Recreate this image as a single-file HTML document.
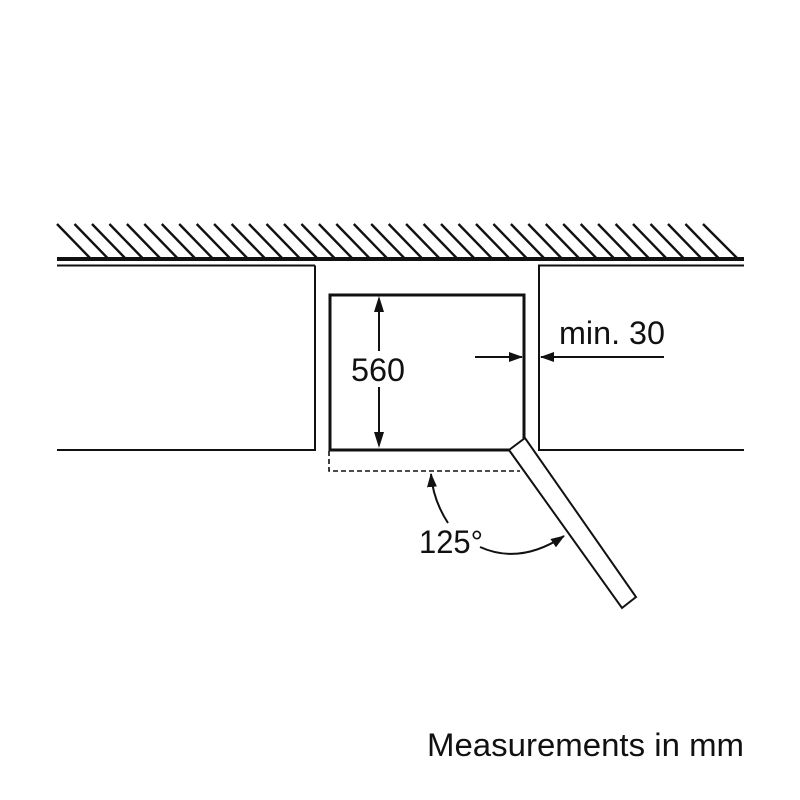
<!DOCTYPE html>
<html><head><meta charset="utf-8"><style>html,body{margin:0;padding:0;background:#fff}svg{display:block}</style></head>
<body>
<svg width="800" height="800" viewBox="0 0 800 800" xmlns="http://www.w3.org/2000/svg">
<defs>
<marker id="ah" markerWidth="14" markerHeight="10" refX="13" refY="5" orient="auto" markerUnits="userSpaceOnUse">
<path d="M0,0 L14,5 L0,10 Z" fill="#111"/>
</marker>
</defs>
<g stroke="#111" stroke-width="2" fill="none">
<line x1="57" y1="259" x2="744" y2="259" stroke-width="4"/>
<line x1="57" y1="265.5" x2="315" y2="265.5"/>
<polyline points="315,265.5 315,450 57,450"/>
<polyline points="744,265.5 539,265.5 539,450 744,450"/>
<rect x="330" y="295" width="194" height="155" stroke-width="3"/>
<polygon points="509,450 525,438 636,597 622,608" fill="#fff" stroke-width="2"/>
<polyline points="329,451 329,471 520,471" stroke-dasharray="5,3" stroke-width="1.6"/>
<line x1="379" y1="308" x2="379" y2="351"/>
<line x1="379" y1="387" x2="379" y2="437"/>
<line x1="475" y1="357" x2="522" y2="357" marker-end="url(#ah)"/>
<line x1="664" y1="357" x2="541" y2="357" marker-end="url(#ah)"/>
<path d="M448,523 Q433,500 431,474" marker-end="url(#ah)"/>
<path d="M480,547 Q520,565 564,536" marker-end="url(#ah)"/>
</g>
<path d="M379,296 L374,312 L384,312 Z M379,448 L374,432 L384,432 Z" fill="#111"/>
<g stroke="#111" stroke-width="2.4">
<line x1="57" y1="224" x2="90" y2="258"/><line x1="74.5" y1="224" x2="107.5" y2="258"/><line x1="92" y1="224" x2="125" y2="258"/><line x1="109.4" y1="224" x2="142.4" y2="258"/><line x1="126.9" y1="224" x2="159.9" y2="258"/><line x1="144.3" y1="224" x2="177.3" y2="258"/><line x1="161.8" y1="224" x2="194.8" y2="258"/><line x1="179.2" y1="224" x2="212.2" y2="258"/><line x1="196.7" y1="224" x2="229.7" y2="258"/><line x1="214.1" y1="224" x2="247.1" y2="258"/><line x1="231.6" y1="224" x2="264.6" y2="258"/><line x1="249" y1="224" x2="282" y2="258"/><line x1="266.5" y1="224" x2="299.5" y2="258"/><line x1="284" y1="224" x2="317" y2="258"/><line x1="301.4" y1="224" x2="334.4" y2="258"/><line x1="318.9" y1="224" x2="351.9" y2="258"/><line x1="336.3" y1="224" x2="369.3" y2="258"/><line x1="353.8" y1="224" x2="386.8" y2="258"/><line x1="371.2" y1="224" x2="404.2" y2="258"/><line x1="388.7" y1="224" x2="421.7" y2="258"/><line x1="406.1" y1="224" x2="439.1" y2="258"/><line x1="423.6" y1="224" x2="456.6" y2="258"/><line x1="441" y1="224" x2="474" y2="258"/><line x1="458.5" y1="224" x2="491.5" y2="258"/><line x1="476" y1="224" x2="509" y2="258"/><line x1="493.4" y1="224" x2="526.4" y2="258"/><line x1="510.9" y1="224" x2="543.9" y2="258"/><line x1="528.3" y1="224" x2="561.3" y2="258"/><line x1="545.8" y1="224" x2="578.8" y2="258"/><line x1="563.2" y1="224" x2="596.2" y2="258"/><line x1="580.7" y1="224" x2="613.7" y2="258"/><line x1="598.1" y1="224" x2="631.1" y2="258"/><line x1="615.6" y1="224" x2="648.6" y2="258"/><line x1="633" y1="224" x2="666" y2="258"/><line x1="650.5" y1="224" x2="683.5" y2="258"/><line x1="668" y1="224" x2="701" y2="258"/><line x1="685.4" y1="224" x2="718.4" y2="258"/><line x1="703" y1="224" x2="737" y2="258"/>
</g>
<g font-family="Liberation Sans, Arial, sans-serif" fill="#111" font-size="32">
<text x="351" y="381" textLength="54" lengthAdjust="spacingAndGlyphs">560</text>
<text x="559" y="344" textLength="106" lengthAdjust="spacingAndGlyphs">min. 30</text>
<text x="419" y="553" textLength="64" lengthAdjust="spacingAndGlyphs">125°</text>
<text x="427" y="756" textLength="317" lengthAdjust="spacingAndGlyphs">Measurements in mm</text>
</g>
</svg>
</body></html>
